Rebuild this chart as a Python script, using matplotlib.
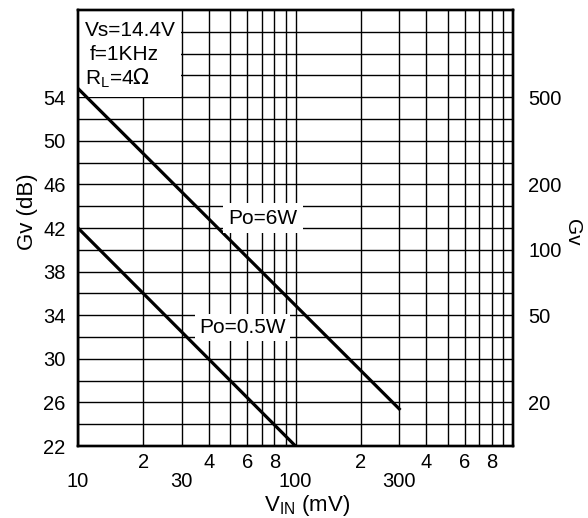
import numpy as np
import matplotlib
matplotlib.use('Agg')
from matplotlib import pyplot as plt
from matplotlib.patches import Rectangle

plt.rcParams['font.family'] = ['Liberation Sans', 'DejaVu Sans']

# curves (Vin in mV, Gv in dB)
vin_6w = [10, 300]
gv_6w = [54.8, 25.4]
vin_05w = [10, 100]
gv_05w = [42, 22]

# axis ticks
left_ticks = [22, 26, 30, 34, 38, 42, 46, 50, 54]
right_gv = [20, 50, 100, 200, 500]
x_major = [10, 30, 100, 300]
x_minor = [20, 40, 60, 80, 200, 400, 600, 800]
x_minor_labels = ['2', '4', '6', '8', '2', '4', '6', '8']

fig = plt.figure(figsize=(5.88, 5.18), dpi=100)
ax = fig.add_axes([78/588, 1-446/518, 435/588, 436/518])

ax.set_xscale('log')
ax.set_xlim(10, 1000)
ax.set_ylim(22, 62)

# grid
for v in list(range(10, 100, 10)) + list(range(100, 1000, 100)):
    ax.axvline(v, color='black', lw=1.0, zorder=1)
for d in range(22, 62, 2):
    ax.axhline(d, color='black', lw=1.0, zorder=1)

ax.plot(vin_6w, gv_6w, color='black', lw=2.3, zorder=3)
ax.plot(vin_05w, gv_05w, color='black', lw=2.3, zorder=3)

for s in ax.spines.values():
    s.set_linewidth(1.7)

ax.set_yticks(left_ticks)
ax.set_yticklabels([str(t) for t in left_ticks])
ax.tick_params(axis='y', length=0, pad=9, labelsize=14.5)

ax.xaxis.set_major_locator(matplotlib.ticker.FixedLocator(x_major))
ax.xaxis.set_major_formatter(matplotlib.ticker.FixedFormatter([str(v) for v in x_major]))
ax.xaxis.set_minor_locator(matplotlib.ticker.FixedLocator(x_minor))
ax.xaxis.set_minor_formatter(matplotlib.ticker.FixedFormatter(x_minor_labels))
ax.tick_params(axis='x', which='major', length=0, pad=19, labelsize=14.5)
ax.tick_params(axis='x', which='minor', length=0, pad=5, labelsize=14.5)

# right axis: linear gain
ax2 = ax.twinx()
ax2.set_ylim(22, 62)
ax2.set_yticks(20*np.log10(right_gv))
ax2.set_yticklabels([str(g) for g in right_gv])
ax2.tick_params(axis='y', length=0, pad=11, labelsize=14.5)
for s in ax2.spines.values():
    s.set_linewidth(1.7)

ax.text(-0.117, 0.537, 'Gv (dB)', transform=ax.transAxes, rotation=90,
        ha='center', va='center', fontsize=16)
ax.text(1.136, 0.49, 'Gv', transform=ax.transAxes, rotation=-90,
        ha='center', va='center', fontsize=15)
ax.text(0.526, -0.137, r'V$_\mathregular{IN}$ (mV)', transform=ax.transAxes,
        ha='center', va='center', fontsize=16)

# conditions box
ax.add_patch(Rectangle((0, 0.80), 0.237, 0.20, transform=ax.transAxes,
                       fc='white', ec='none', zorder=2))
ax.text(0.016, 0.954, 'Vs=14.4V', transform=ax.transAxes, ha='left',
        va='center', fontsize=15, zorder=4)
ax.text(0.028, 0.897, 'f=1KHz', transform=ax.transAxes, ha='left',
        va='center', fontsize=15, zorder=4)
ax.text(0.016, 0.844, 'R$_\\mathregular{L}$=4$\\Omega$', transform=ax.transAxes,
        ha='left', va='center', fontsize=15, zorder=4)

ax.text(71, 42.9, 'Po=6W', ha='center', va='center', fontsize=15, zorder=4,
        bbox=dict(boxstyle='square,pad=0.25', fc='white', ec='none'))
ax.text(57, 32.9, 'Po=0.5W', ha='center', va='center', fontsize=15, zorder=4,
        bbox=dict(boxstyle='square,pad=0.2', fc='white', ec='none'))

plt.savefig('out.png', dpi=100)
